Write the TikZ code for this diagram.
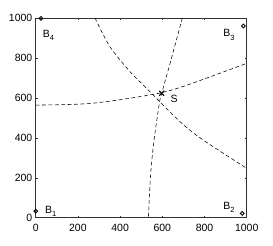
\documentclass[tikz,border=0pt]{standalone}
\usepackage{fontspec}
\setmainfont{Liberation Sans}
\usepackage{tikz}
\usetikzlibrary{positioning,shapes.misc}
\definecolor{axisgray}{RGB}{50,50,50}
\newcommand{\bname}[1]{B\raisebox{-3.6pt}{\fontsize{7.5}{8}\selectfont #1}}

\begin{document}
\begin{tikzpicture}[x=0.211pt, y=0.1997pt, font=\fontsize{10.5}{12}\selectfont,
    curve/.style={draw=black, line width=0.55pt, dash pattern=on 3.8pt off 2.6pt},
    beacon/.style={circle, draw=black, line width=0.9pt, inner sep=0pt, minimum size=3.8pt},
    lbl/.style={inner sep=0pt}]
  \useasboundingbox (-169.2,-136.7) rectangle (1124.6,1090.1);

  % Axes box
  \draw[axisgray, line width=0.7pt] (0,0) rectangle (1000,1000);
  % Ticks and tick labels
  \foreach \v in {0,200,...,1000}{
    \draw[axisgray, line width=0.5pt] (\v,0) -- ++(0,10) (\v,1000) -- ++(0,-10)
      (0,\v) -- ++(9.5,0) (1000,\v) -- ++(-9.5,0);
    \node[lbl, anchor=north] (xl\v) at (\v,-33) {\v};
    \node[lbl, anchor=east] (yl\v) at (-15,\v) {\v};
  }

  % Hyperbolic curves
  \begin{scope}
    \clip (0,0) rectangle (1000,1000);
    \draw[curve] plot[smooth] coordinates
      {(281,1000) (352,856) (447,731) (518,656) (557,614) (692,473) (794,389) (1000,247)};
    \draw[curve] plot[smooth] coordinates
      {(0,564) (257,572) (526,612) (684,652) (1000,773)};
    \draw[curve] plot[smooth] coordinates
      {(695,1000) (634,762) (597,623) (586,573) (561,389) (545,222) (534,0)};
  \end{scope}

  % Beacons
  \node[beacon] (b1) at (0,33) {};
  \node[beacon] (b2) at (979,22) {};
  \node[beacon] (b3) at (984,960) {};
  \node[beacon] (b4) at (25,998) {};
  \node[lbl, anchor=base west] (lb1) at (44,23.5) {\bname{1}};
  \node[lbl, anchor=base west] (lb2) at (889,42) {\bname{2}};
  \node[lbl, anchor=base west] (lb3) at (888,906) {\bname{3}};
  \node[lbl, anchor=base west] (lb4) at (33,903) {\bname{4}};

  % Source
  \node[cross out, draw=black, line width=1.1pt, minimum size=3.8pt, inner sep=0pt]
    (src) at (597,623) {};
  \node[lbl, anchor=base west] (srclbl) at (639,577) {S};
\end{tikzpicture}
\end{document}
